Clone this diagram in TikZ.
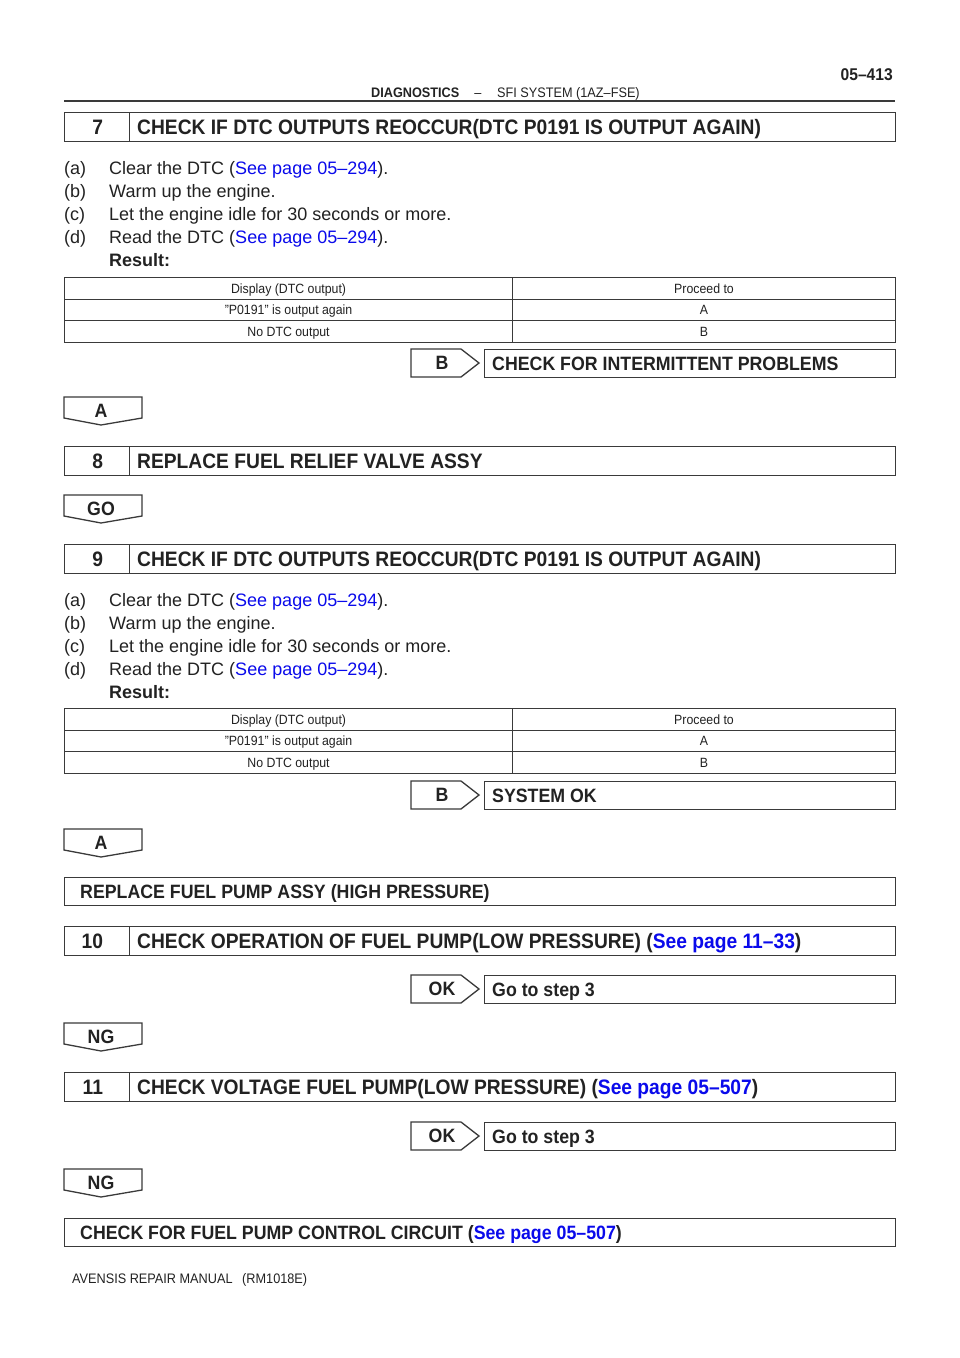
\documentclass[tikz,border=0pt]{standalone}
\usepackage{fontspec}
\setmainfont{Liberation Sans}
\newfontfamily\narrowfont[FakeStretch=0.92]{Liberation Sans}
\usetikzlibrary{calc}
\definecolor{ink}{HTML}{222222}
\definecolor{frame}{HTML}{3A3A3A}
\definecolor{linkblue}{RGB}{10,10,235}
\newcommand\lnk[1]{\textcolor{linkblue}{#1}}
\tikzset{
  cell/.style={draw=frame, line width=1.3pt, inner sep=0pt, anchor=north west},
  ttl/.style={font=\narrowfont\fontsize{20.9}{22}\selectfont\bfseries, text=ink, inner sep=0pt},
  sub/.style={font=\narrowfont\fontsize{19.3}{21}\selectfont\bfseries, text=ink, inner sep=0pt},
  body/.style={font=\fontsize{18}{20}\selectfont, text=ink, inner sep=0pt, anchor=base west},
  small/.style={font=\narrowfont\fontsize{13.4}{15}\selectfont, text=ink, inner sep=0pt, anchor=base},
  hdr/.style={font=\narrowfont\fontsize{13.8}{15}\selectfont, text=ink, inner sep=0pt},
  tabshape/.style={draw=frame, line width=1.3pt, fill=white, line join=miter},
}
% numbered title box: name, top, number, text
\newcommand\titlebox[4]{%
  \node[cell, minimum width=65pt, minimum height=29pt] (#1n) at (64,#2) {};
  \node[cell, minimum width=766pt, minimum height=29pt] (#1t) at (129,#2) {};
  \node[ttl, anchor=base east] (#1num) at ($(#1n.center)+(6,7.4)$) {#3};
  \node[ttl, anchor=base west] (#1txt) at ($(#1t.west)+(8,7.4)$) {#4};
}
% plain wide box: name, top, text
\newcommand\plainbox[3]{%
  \node[cell, minimum width=831pt, minimum height=28pt] (#1) at (64,#2) {};
  \node[sub, anchor=base west] (#1txt) at ($(#1.west)+(16,6.9)$) {#3};
}
% arrow label and result box: name, top, label, text
\newcommand\arrowbox[4]{%
  \coordinate (#1a) at (411,#2);
  \draw[tabshape] (#1a) -- ++(50,0) -- ++(18,14) -- ++(-18,14) -- ++(-50,0) -- cycle;
  \node[sub, anchor=base] (#1l) at (442,{#2+20.9}) {#3};
  \node[cell, minimum width=411pt, minimum height=28pt] (#1b) at (484,#2) {};
  \node[sub, anchor=base west] (#1t) at ($(#1b.west)+(8,6.9)$) {#4};
}
% downward tab: name, top, label
\newcommand\tabmark[3]{%
  \coordinate (#1c) at (64,#2);
  \draw[tabshape] (#1c) -- ++(78,0) -- ++(0,21) -- ++(-41,7) -- ++(-37,-7) -- cycle;
  \node[sub, anchor=base] (#1) at (101,{#2+20.9}) {#3};
}
% result table: name, top
\newcommand\restable[2]{%
  \foreach \r/\ta/\tb in {0/{Display (DTC output)}/{Proceed to},1/{”P0191” is output again}/A,2/{No DTC output}/B}{%
    \node[cell, line width=1.1pt, minimum width=448pt, minimum height=21.5pt] (#1l\r) at (64,{#2+21.5*\r}) {};
    \node[cell, line width=1.1pt, minimum width=383pt, minimum height=21.5pt] (#1r\r) at (512,{#2+21.5*\r}) {};
    \node[small] (#1lt\r) at ($(#1l\r.center)+(0,4.8)$) {\ta};
    \node[small] (#1rt\r) at ($(#1r\r.center)+(0,4.8)$) {\tb};
  }%
}
% steps: name, centre y of first line
\newcommand\steplist[2]{%
  \node[body] (#1a) at (64,{#2+6.4}) {(a)};
  \node[body] (#1at) at (109,{#2+6.4}) {Clear the DTC (\lnk{See page 05–294}).};
  \node[body] (#1b) at (64,{#2+29.4}) {(b)};
  \node[body] (#1bt) at (109,{#2+29.4}) {Warm up the engine.};
  \node[body] (#1c) at (64,{#2+52.4}) {(c)};
  \node[body] (#1ct) at (109,{#2+52.4}) {Let the engine idle for 30 seconds or more.};
  \node[body] (#1d) at (64,{#2+75.4}) {(d)};
  \node[body] (#1dt) at (109,{#2+75.4}) {Read the DTC (\lnk{See page 05–294}).};
  \node[body, font=\fontsize{18}{20}\selectfont\bfseries] (#1r) at (109,{#2+98.4}) {Result:};
}
\begin{document}
\begin{tikzpicture}[x=1pt,y=-1pt]
\useasboundingbox[fill=white] (0,0) rectangle (960,1358);
% header
\node[font=\narrowfont\fontsize{17}{18}\selectfont\bfseries, text=ink, inner sep=0pt, anchor=base east] (pg) at (893,80) {05–413};
\node[hdr, font=\narrowfont\fontsize{13.8}{15}\selectfont\bfseries, anchor=base west] (hd1) at (371,97.5) {DIAGNOSTICS};
\node[hdr, anchor=base] (hd2) at (478,97.5) {–};
\node[hdr, anchor=base west] (hd3) at (497,97.5) {SFI SYSTEM (1AZ–FSE)};
\coordinate (rulel) at (64,101);
\coordinate (ruler) at (895,101);
\draw[frame, line width=2pt] (rulel) -- (ruler);
% step 7
\titlebox{s7}{112}{7}{CHECK IF DTC OUTPUTS REOCCUR(DTC P0191 IS OUTPUT AGAIN)}
\steplist{p7}{168}
\restable{t7}{277}
\arrowbox{ab1}{349}{B}{CHECK FOR INTERMITTENT PROBLEMS}
\tabmark{tA1}{397}{A}
% step 8
\titlebox{s8}{446}{8}{REPLACE FUEL RELIEF VALVE ASSY}
\tabmark{tGO}{495}{GO}
% step 9
\titlebox{s9}{544}{9}{CHECK IF DTC OUTPUTS REOCCUR(DTC P0191 IS OUTPUT AGAIN)}
\steplist{p9}{600}
\restable{t9}{708}
\arrowbox{ab2}{781}{B}{SYSTEM OK}
\tabmark{tA2}{829}{A}
\plainbox{rp}{877}{REPLACE FUEL PUMP ASSY (HIGH PRESSURE)}
% step 10
\titlebox{s10}{926}{10}{CHECK OPERATION OF FUEL PUMP(LOW PRESSURE) (\lnk{See page 11–33})}
\arrowbox{ab3}{975}{OK}{Go to step 3}
\tabmark{tNG1}{1023}{NG}
% step 11
\titlebox{s11}{1072}{11}{CHECK VOLTAGE FUEL PUMP(LOW PRESSURE) (\lnk{See page 05–507})}
\arrowbox{ab4}{1122}{OK}{Go to step 3}
\tabmark{tNG2}{1169}{NG}
\plainbox{fc}{1218}{CHECK FOR FUEL PUMP CONTROL CIRCUIT (\lnk{See page 05–507})}
% footer
\node[hdr, anchor=base west] (ft) at (72,1283.5) {AVENSIS REPAIR MANUAL\hspace{0.7em}(RM1018E)};
\end{tikzpicture}
\end{document}
